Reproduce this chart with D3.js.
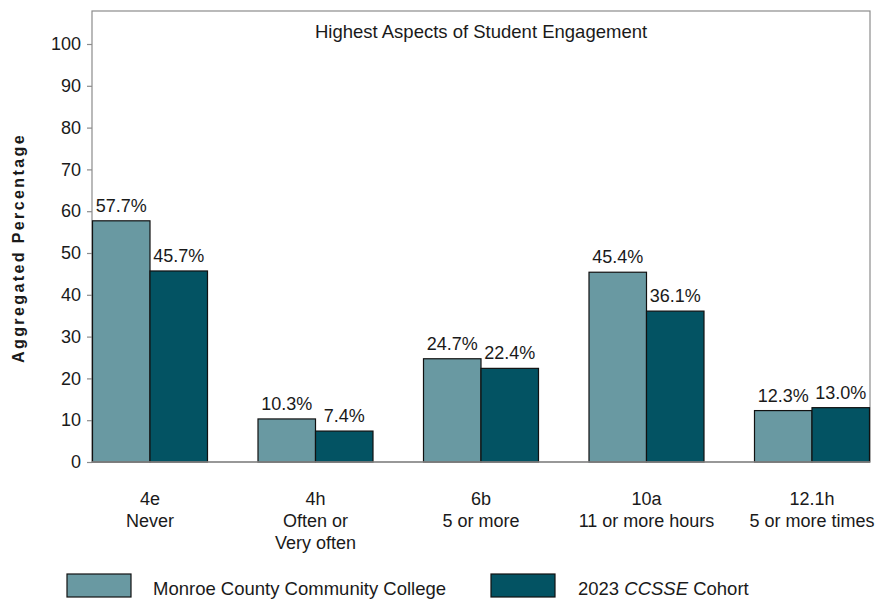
<!DOCTYPE html>
<html>
<head>
<meta charset="utf-8">
<script src="https://cdn.jsdelivr.net/npm/d3@7"></script>
<style>
  body { margin: 0; background: #fff; }
  svg { display: block; font-family: "Liberation Sans", Arial, sans-serif; }
</style>
</head>
<body>
<svg id="vis" width="875" height="600"></svg>
<script>
const width = 875;
const height = 600;

// chart data
const categories = ["4e", "4h", "6b", "10a", "12.1h"];
const categoryNotes = [["Never"], ["Often or", "Very often"], ["5 or more"], ["11 or more hours"], ["5 or more times"]];
const college = [57.7, 10.3, 24.7, 45.4, 12.3];
const cohort = [45.7, 7.4, 22.4, 36.1, 13.0];
const seriesNames = ["Monroe County Community College", "2023 CCSSE Cohort"];
const yTicks = [0, 10, 20, 30, 40, 50, 60, 70, 80, 90, 100];

const colors = ["#6999a2", "#035363"];
const frame = { left: 92, top: 11, right: 870, bottom: 462 };
const barWidth = 57.5;
const fontSize = "18px";

const svg = d3.select("svg#vis");

// scales
const x = d3.scalePoint()
  .domain(categories)
  .range([150, 812]);

const y = d3.scaleLinear()
  .domain([0, 100])
  .range([frame.bottom, 44]);

// plot frame
svg.append("rect")
  .attr("x", frame.left)
  .attr("y", frame.top)
  .attr("width", frame.right - frame.left)
  .attr("height", frame.bottom - frame.top)
  .attr("fill", "none")
  .attr("stroke", "#8c8c8c")
  .attr("stroke-width", 1.2);

// title
svg.append("text")
  .attr("x", (frame.left + frame.right) / 2)
  .attr("y", 38)
  .attr("text-anchor", "middle")
  .style("font-size", "18.5px")
  .attr("fill", "#1a1a1a")
  .text("Highest Aspects of Student Engagement");

// y axis
const yAxis = svg.append("g")
  .attr("transform", "translate(" + frame.left + ",0)")
  .call(d3.axisLeft(y).tickValues(yTicks).tickSize(5).tickPadding(6));
yAxis.select(".domain").remove();
yAxis.selectAll(".tick line").attr("stroke", "#8c8c8c").attr("stroke-width", 1.2);
yAxis.selectAll(".tick text")
  .style("font-size", fontSize)
  .style("font-family", "'Liberation Sans', Arial, sans-serif")
  .attr("fill", "#1a1a1a");

svg.append("text")
  .attr("transform", "translate(24,248) rotate(-90)")
  .attr("text-anchor", "middle")
  .style("font-size", "16px")
  .style("font-weight", "bold")
  .style("letter-spacing", "2.4px")
  .attr("fill", "#1a1a1a")
  .text("Aggregated Percentage");

// bars
const series = [college, cohort];
series.forEach(function(values, s) {
  const g = svg.append("g").attr("class", "series-" + s);
  const rows = categories.map((c, i) => ({ cat: c, value: values[i] }));

  g.selectAll("rect")
    .data(rows)
    .enter()
    .append("rect")
    .attr("x", d => x(d.cat) - barWidth + s * barWidth)
    .attr("y", d => y(d.value))
    .attr("width", barWidth)
    .attr("height", d => y(0) - y(d.value))
    .attr("fill", colors[s])
    .attr("stroke", "#111")
    .attr("stroke-width", 1.2);

  g.selectAll("text")
    .data(rows)
    .enter()
    .append("text")
    .attr("x", d => x(d.cat) - barWidth / 2 + s * barWidth)
    .attr("y", d => y(d.value) - 9)
    .attr("text-anchor", "middle")
    .style("font-size", fontSize)
    .attr("fill", "#1a1a1a")
    .text(d => d.value.toFixed(1) + "%");
});

// x axis baseline
svg.append("line")
  .attr("x1", frame.left)
  .attr("x2", frame.right)
  .attr("y1", y(0))
  .attr("y2", y(0))
  .attr("stroke", "#8c8c8c")
  .attr("stroke-width", 1.5);

// category labels
const xLabels = svg.append("g");
categories.forEach(function(c, i) {
  const t = xLabels.append("text")
    .attr("x", x(c))
    .attr("y", 505)
    .attr("text-anchor", "middle")
    .style("font-size", fontSize)
    .attr("fill", "#1a1a1a");
  t.append("tspan").attr("x", x(c)).text(c);
  categoryNotes[i].forEach(function(line) {
    t.append("tspan").attr("x", x(c)).attr("dy", 22).text(line);
  });
});

// legend (kept just inside the bottom edge)
const legendX = [67, 491];
seriesNames.forEach(function(name, s) {
  svg.append("rect")
    .attr("x", legendX[s])
    .attr("y", 574)
    .attr("width", 64)
    .attr("height", 23)
    .attr("fill", colors[s])
    .attr("stroke", "#111")
    .attr("stroke-width", 1.2);
});

svg.append("text")
  .attr("x", 153)
  .attr("y", 595)
  .style("font-size", "18.5px")
  .attr("fill", "#1a1a1a")
  .text(seriesNames[0]);

const cohortLabel = svg.append("text")
  .attr("x", 578)
  .attr("y", 595)
  .style("font-size", "18.5px")
  .attr("fill", "#1a1a1a");
cohortLabel.append("tspan").text("2023 ");
cohortLabel.append("tspan").style("font-style", "italic").text("CCSSE");
cohortLabel.append("tspan").text(" Cohort");
</script>
</body>
</html>
